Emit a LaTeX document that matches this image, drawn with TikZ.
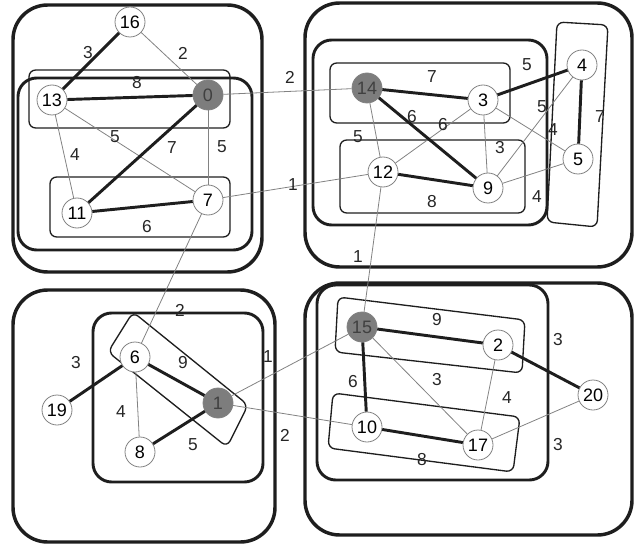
\documentclass[tikz,border=0pt]{standalone}
\usepackage{fontspec}
\setmainfont{Liberation Sans}
\usepackage{tikz}
\usetikzlibrary{positioning}
\definecolor{EdgeGray}{RGB}{130,130,130}
\definecolor{RootGray}{RGB}{125,125,125}
\definecolor{LineDark}{RGB}{30,30,30}

\begin{document}
\begin{tikzpicture}[x=0.75pt,y=-0.75pt,
  vtx/.style={circle,draw=EdgeGray,line width=0.6pt,fill=white,minimum size=22.5pt,inner sep=0pt,font=\fontsize{13.5}{13.5}\selectfont},
  root/.style={vtx,fill=RootGray,text=black!75},
  light/.style={draw=EdgeGray,line width=0.6pt},
  heavy/.style={draw=LineDark,line width=2.2pt},
  wlab/.style={inner sep=0pt,font=\fontsize{13}{13}\selectfont,text=black!85},
  outerbox/.style={draw=LineDark,line width=2.6pt,rounded corners=26pt},
  midbox/.style={draw=LineDark,line width=2.2pt,rounded corners=14pt},
  thinbox/.style={draw=LineDark,line width=1pt,rounded corners=5pt}]
  \useasboundingbox (0,0) rectangle (634,545);
  % clusters
  \draw[outerbox] (13,5) rectangle (262,272);
  \draw[outerbox] (305,3) rectangle (632,267);
  \draw[outerbox] (13,290) rectangle (275,542);
  \draw[outerbox] (305,283) rectangle (632,535);
  \draw[midbox] (18,78) rectangle (252,250);
  \draw[midbox] (313,40) rectangle (547,225);
  \draw[midbox] (93,313) rectangle (263,482);
  \draw[midbox] (317,285) rectangle (548,480);
  \draw[thinbox] (29,70) rectangle (230,128);
  \draw[thinbox] (50,177) rectangle (230,237);
  \draw[thinbox] (330,63) rectangle (510,123);
  \draw[thinbox] (340,140) rectangle (525,213);
  \draw[thinbox] (557,22) -- (608,25) -- (597,227) -- (547,222) -- cycle;
  \draw[thinbox] (133,312) -- (248,405) -- (227,447) -- (108,352) -- cycle;
  \draw[thinbox] (338,297) -- (525,320) -- (522,373) -- (335,352) -- cycle;
  \draw[thinbox] (333,393) -- (520,417) -- (513,472) -- (328,448) -- cycle;
  % vertices
  \node[vtx]  (v16) at (130,22)  {16};
  \node[vtx]  (v13) at (52,100)  {13};
  \node[root] (v0)  at (208,95)  {0};
  \node[vtx]  (v11) at (77,213)  {11};
  \node[vtx]  (v7)  at (208,200) {7};
  \node[root] (v14) at (367,88)  {14};
  \node[vtx]  (v3)  at (483,100) {3};
  \node[vtx]  (v4)  at (582,65)  {4};
  \node[vtx]  (v5)  at (578,159) {5};
  \node[vtx]  (v12) at (383,172) {12};
  \node[vtx]  (v9)  at (488,188) {9};
  \node[vtx]  (v6)  at (135,357) {6};
  \node[root] (v1)  at (218,403) {1};
  \node[vtx]  (v19) at (57,410)  {19};
  \node[vtx]  (v8)  at (140,452) {8};
  \node[root] (v15) at (362,327) {15};
  \node[vtx]  (v2)  at (498,345) {2};
  \node[vtx]  (v20) at (593,395) {20};
  \node[vtx]  (v10) at (367,427) {10};
  \node[vtx]  (v17) at (478,445) {17};
  % edges
  \foreach \a/\b in {16/0,13/7,13/11,0/7,0/14,7/12,7/6,14/12,3/12,3/9,3/5,4/9,9/5,6/8,1/15,1/10,12/15,15/17,2/17,20/17}
    \draw[light] (v\a) -- (v\b);
  \foreach \a/\b in {16/13,13/0,0/11,11/7,14/3,14/9,3/4,4/5,12/9,6/1,6/19,8/1,15/2,15/10,2/20,10/17}
    \draw[heavy] (v\a) -- (v\b);
  % weights
  \foreach \n/\x/\y/\t in {a/88/53/3,b/183/53/2,c/137/83/8,d/115/137/5,e/75/155/4,f/172/148/7,
      g/222/147/5,h/147/227/6,i/290/77/2,j/293/185/1,k/432/77/7,l/527/65/5,m/412/117/6,
      n/443/125/6,o/542/107/5,p/553/130/4,q/600/117/7,r/358/137/5,s/500/148/3,t/432/202/8,
      u/537/197/4,v/358/257/1,w/180/310/2,x/76/363/3,y/183/363/9,z/268/357/1,
      A/121/412/4,B/193/445/5,C/285/435/2,D/437/320/9,E/558/340/3,F/353/382/6,
      G/437/380/3,H/507/398/4,I/558/445/3,J/422/460/8}
    \node[wlab] (w\n) at (\x,\y) {\t};
\end{tikzpicture}
\end{document}
